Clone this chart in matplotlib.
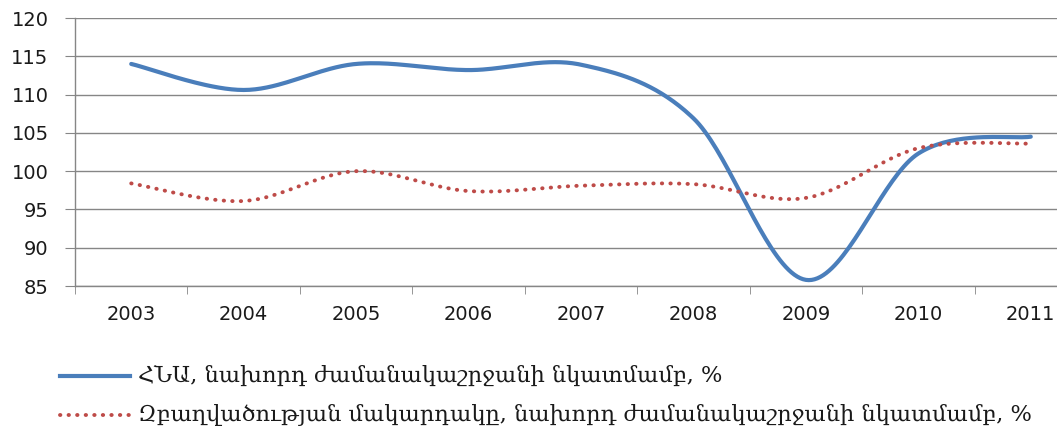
import numpy as np
import matplotlib.pyplot as plt
from matplotlib.lines import Line2D

years = ['2003', '2004', '2005', '2006', '2007', '2008', '2009', '2010', '2011']
gdp = [114.0, 110.6, 114.0, 113.2, 113.9, 106.9, 85.8, 102.3, 104.5]
employment = [98.4, 96.1, 100.0, 97.4, 98.1, 98.3, 96.5, 103.0, 103.6]
labels = ['ՀՆԱ, նախորդ ժամանակաշրջանի նկատմամբ, %',
          'Զբաղվածության մակարդակը, նախորդ ժամանակաշրջանի նկատմամբ, %']

blue = '#4A7EBB'
red = '#BE4B48'


def smooth(y, n=40):
    # Excel-like smoothed line (Catmull-Rom as cubic Bezier)
    x = np.arange(len(y), dtype=float)
    y = np.asarray(y, dtype=float)
    px = np.concatenate([[x[0]], x, [x[-1]]])
    py = np.concatenate([[y[0]], y, [y[-1]]])
    xs, ys = [], []
    t = np.linspace(0, 1, n)
    for i in range(1, len(px) - 2):
        p0 = np.array([px[i], py[i]])
        p3 = np.array([px[i + 1], py[i + 1]])
        c1 = p0 + (np.array([px[i + 1], py[i + 1]]) - np.array([px[i - 1], py[i - 1]])) / 6
        c2 = p3 - (np.array([px[i + 2], py[i + 2]]) - np.array([px[i], py[i]])) / 6
        b = ((1 - t) ** 3)[:, None] * p0 + (3 * (1 - t) ** 2 * t)[:, None] * c1 \
            + (3 * (1 - t) * t ** 2)[:, None] * c2 + (t ** 3)[:, None] * p3
        xs.extend(b[:, 0])
        ys.extend(b[:, 1])
    return np.array(xs), np.array(ys)


dotted = (0, (0.1, 2.1))

fig = plt.figure(figsize=(10.57, 4.30), dpi=100)
ax = fig.add_axes([75 / 1057, (430 - 286) / 430, (1087 - 75) / 1057, 268 / 430])

gx, gy = smooth(gdp)
ex, ey = smooth(employment)
ax.plot(gx, gy, color=blue, lw=3.0, solid_capstyle='round', zorder=3)
ax.plot(ex, ey, color=red, lw=2.8, linestyle=dotted, dash_capstyle='round', zorder=3)

ax.set_xlim(-0.5, len(years) - 0.5)
ax.set_ylim(85, 120)
ax.set_yticks(np.arange(85, 121, 5))
ax.set_xticks(np.arange(len(years)))
ax.set_xticklabels(years)
ax.set_xticks(np.arange(len(years) + 1) - 0.5, minor=True)
ax.tick_params(axis='x', which='major', length=0, pad=14, labelsize=14, colors='#1a1a1a')
ax.tick_params(axis='x', which='minor', length=6, color='#868686')
ax.tick_params(axis='y', length=7, color='#868686', labelsize=14, labelcolor='#1a1a1a', pad=12)
ax.grid(axis='y', color='#868686', lw=1)
ax.set_axisbelow(True)
for s in ['top', 'right']:
    ax.spines[s].set_visible(False)
for s in ['left', 'bottom']:
    ax.spines[s].set_color('#868686')
    ax.spines[s].set_linewidth(1)

# legend below the chart
fig.add_artist(Line2D([60 / 1057, 130 / 1057], [1 - 376 / 430, 1 - 376 / 430],
                      color=blue, lw=3.0, transform=fig.transFigure))
fig.add_artist(Line2D([60 / 1057, 130 / 1057], [1 - 415 / 430, 1 - 415 / 430],
                      color=red, lw=2.8, linestyle=dotted, dash_capstyle='round',
                      transform=fig.transFigure))
fig.text(138 / 1057, 1 - 376 / 430, labels[0], fontsize=16.2, va='center', color='#1a1a1a',
         family='DejaVu Serif')
fig.text(138 / 1057, 1 - 415 / 430, labels[1], fontsize=16.2, va='center', color='#1a1a1a',
         family='DejaVu Serif')

fig.savefig('out.png', dpi=100)
